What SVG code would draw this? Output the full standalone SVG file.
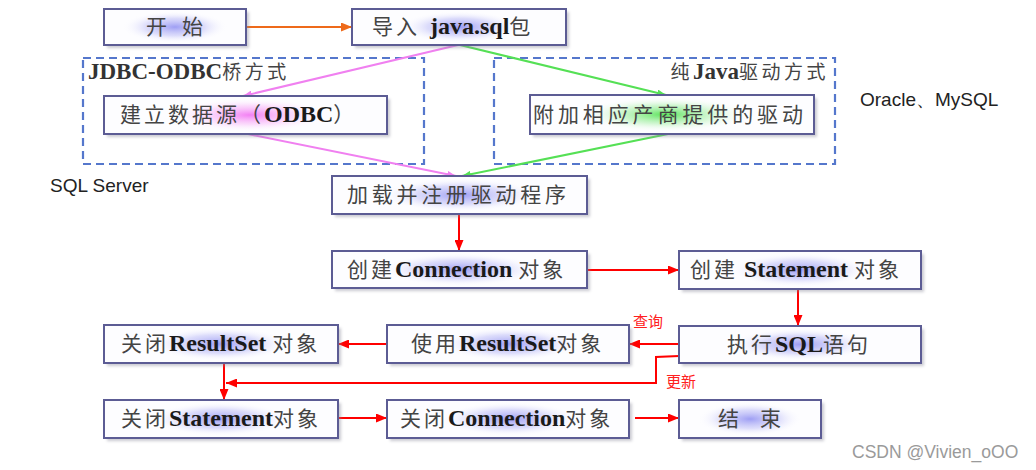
<svg xmlns="http://www.w3.org/2000/svg" width="1036" height="470" viewBox="0 0 1036 470">
<defs>
<style>
.box{fill:#fdfdff;stroke:#5c5c94;stroke-width:2}
.shadow{fill:#8a8a9a;opacity:.45;filter:url(#blur)}
.t{font-family:"Liberation Serif","Noto Sans CJK SC",serif;font-size:21px;fill:#3a3a3a}
.zh{font-family:"Noto Sans CJK SC","Liberation Serif",sans-serif;font-size:21px;fill:#444;letter-spacing:3px}
.la{font-family:"Liberation Serif",serif;font-weight:bold;font-size:24px;fill:#1a1a1a;letter-spacing:0}
.dash{fill:none;stroke:#5577cc;stroke-width:2.2;stroke-dasharray:8 5}
.side{font-family:"Liberation Sans",Arial,sans-serif;font-size:19px;fill:#222}
.red{stroke:#ff0000;stroke-width:2;fill:none}
.lbl{font-family:"Noto Sans CJK SC",sans-serif;font-size:15px;fill:#ff2020}
.gl{font-family:"Liberation Serif",serif;font-weight:bold;font-size:23px;fill:#333}
.gz{font-family:"Noto Sans CJK SC",sans-serif;font-size:19px;fill:#444;letter-spacing:3.5px}
</style>
<filter id="blur" x="-10%" y="-20%" width="120%" height="140%"><feGaussianBlur stdDeviation="1.5"/></filter>
<radialGradient id="gBlue" cx="0.5" cy="0.5" r="0.5">
<stop offset="0" stop-color="#7f7ff0" stop-opacity="0.75"/>
<stop offset="0.55" stop-color="#b4b4f6" stop-opacity="0.45"/>
<stop offset="1" stop-color="#ffffff" stop-opacity="0"/>
</radialGradient>
<radialGradient id="gPink" cx="0.5" cy="0.5" r="0.5">
<stop offset="0" stop-color="#f060f0" stop-opacity="0.8"/>
<stop offset="0.55" stop-color="#f8b0f8" stop-opacity="0.45"/>
<stop offset="1" stop-color="#ffffff" stop-opacity="0"/>
</radialGradient>
<radialGradient id="gGreen" cx="0.5" cy="0.5" r="0.5">
<stop offset="0" stop-color="#40e040" stop-opacity="0.85"/>
<stop offset="0.55" stop-color="#a8f0a8" stop-opacity="0.5"/>
<stop offset="1" stop-color="#ffffff" stop-opacity="0"/>
</radialGradient>
<marker id="aRed" markerUnits="userSpaceOnUse" markerWidth="11" markerHeight="9" refX="11" refY="4.5" orient="auto"><path d="M0,0 L11,4.5 L0,9 z" fill="#ff0000"/></marker>
<marker id="aOr" markerUnits="userSpaceOnUse" markerWidth="11" markerHeight="9" refX="11" refY="4.5" orient="auto"><path d="M0,0 L11,4.5 L0,9 z" fill="#ee6a1a"/></marker>
<marker id="aPink" markerUnits="userSpaceOnUse" markerWidth="9" markerHeight="7" refX="9" refY="3.5" orient="auto"><path d="M0,0 L9,3.5 L0,7 z" fill="#f080f0"/></marker>
<marker id="aGreen" markerUnits="userSpaceOnUse" markerWidth="9" markerHeight="7" refX="9" refY="3.5" orient="auto"><path d="M0,0 L9,3.5 L0,7 z" fill="#55e055"/></marker>
</defs>
<rect width="1036" height="470" fill="#ffffff"/>

<g id="groups">
<rect class="dash" x="83" y="58" width="341" height="106"/>
<text x="88" y="79"><tspan class="gl" font-size="25">J</tspan><tspan class="gl">DBC-ODBC</tspan><tspan class="gz">桥方式</tspan></text>
<rect class="dash" x="494" y="58" width="341" height="106"/>
<text x="829" y="79" text-anchor="end"><tspan class="gz">纯</tspan><tspan class="gl">Java</tspan><tspan class="gz">驱动方式</tspan></text>
</g>

<g id="connectors">
<line x1="246" y1="27" x2="352" y2="27" stroke="#ee6a1a" stroke-width="2" marker-end="url(#aOr)"/>
<line x1="458" y1="45" x2="243" y2="96" stroke="#f080f0" stroke-width="2" marker-end="url(#aPink)"/>
<line x1="248" y1="134" x2="456" y2="176" stroke="#f080f0" stroke-width="2" marker-end="url(#aPink)"/>
<line x1="460" y1="45" x2="666" y2="95" stroke="#55e055" stroke-width="2" marker-end="url(#aGreen)"/>
<line x1="668" y1="134" x2="462" y2="176" stroke="#55e055" stroke-width="2" marker-end="url(#aGreen)"/>
<line class="red" x1="459" y1="214" x2="459" y2="251" marker-end="url(#aRed)"/>
<line class="red" x1="587" y1="270" x2="679" y2="270" marker-end="url(#aRed)"/>
<line class="red" x1="798" y1="289" x2="798" y2="326" marker-end="url(#aRed)"/>
<line class="red" x1="679" y1="344" x2="629" y2="344" marker-end="url(#aRed)"/>
<line class="red" x1="387" y1="344" x2="338" y2="344" marker-end="url(#aRed)"/>
<polyline class="red" points="679,356 656,357 656,383 226,383" marker-end="url(#aRed)"/>
<line class="red" x1="224" y1="363" x2="224" y2="400" marker-end="url(#aRed)"/>
<line class="red" x1="338" y1="418" x2="387" y2="418" marker-end="url(#aRed)"/>
<line class="red" x1="635" y1="418" x2="679" y2="418" marker-end="url(#aRed)"/>
<text class="lbl" x="633" y="327">查询</text>
<text class="lbl" x="666" y="387">更新</text>
</g>

<g id="n-start">
<rect class="shadow" x="107" y="12" width="142" height="36"/>
<rect class="box" x="104" y="9" width="142" height="36"/>
<rect x="122" y="11" width="106" height="32" fill="url(#gBlue)"/>
<text class="zh" x="146" y="34" textLength="60" lengthAdjust="spacing" letter-spacing="0">开始</text>
</g>

<g id="n-import">
<rect class="shadow" x="355" y="12" width="214" height="36"/>
<rect class="box" x="352" y="9" width="214" height="36"/>
<rect x="400" y="11" width="120" height="32" fill="url(#gBlue)"/>
<text class="t" x="372" y="34"><tspan class="zh">导入</tspan><tspan class="la" dx="10">java.sql</tspan><tspan class="zh">包</tspan></text>
</g>

<g id="n-odbc">
<rect class="shadow" x="107" y="99" width="283" height="38"/>
<rect class="box" x="104" y="96" width="283" height="38"/>
<rect x="170" y="98" width="160" height="34" fill="url(#gPink)"/>
<text class="t" x="120" y="122"><tspan class="zh">建立数据源（</tspan><tspan class="la">ODBC</tspan><tspan class="zh">）</tspan></text>
</g>

<g id="n-vendor">
<rect class="shadow" x="533" y="98" width="284" height="39"/>
<rect class="box" x="530" y="95" width="284" height="39"/>
<rect x="580" y="97" width="170" height="35" fill="url(#gGreen)"/>
<text class="zh" x="533" y="122" textLength="273" lengthAdjust="spacing" letter-spacing="0">附加相应产商提供的驱动</text>
</g>

<g id="n-load">
<rect class="shadow" x="335" y="179" width="255" height="38"/>
<rect class="box" x="332" y="176" width="255" height="38"/>
<rect x="380" y="178" width="160" height="34" fill="url(#gBlue)"/>
<text class="zh" x="347" y="202" textLength="222" lengthAdjust="spacing" letter-spacing="0">加载并注册驱动程序</text>
</g>

<g id="n-conn">
<rect class="shadow" x="335" y="254" width="255" height="37"/>
<rect class="box" x="332" y="251" width="255" height="37"/>
<rect x="380" y="253" width="160" height="33" fill="url(#gBlue)"/>
<text class="t" x="347" y="277"><tspan class="zh">创建</tspan><tspan class="la">Connection </tspan><tspan class="zh">对象</tspan></text>
</g>

<g id="n-stmt">
<rect class="shadow" x="682" y="254" width="242" height="38"/>
<rect class="box" x="679" y="251" width="242" height="38"/>
<rect x="730" y="253" width="140" height="34" fill="url(#gBlue)"/>
<text class="t" x="690" y="277"><tspan class="zh">创建</tspan><tspan class="la" dx="6">Statement </tspan><tspan class="zh">对象</tspan></text>
</g>

<g id="n-exec">
<rect class="shadow" x="682" y="329" width="242" height="37"/>
<rect class="box" x="679" y="326" width="242" height="37"/>
<rect x="730" y="328" width="140" height="33" fill="url(#gBlue)"/>
<text class="t" x="727" y="352"><tspan class="zh">执行</tspan><tspan class="la">SQL</tspan><tspan class="zh">语句</tspan></text>
</g>

<g id="n-use-rs">
<rect class="shadow" x="390" y="328" width="242" height="38"/>
<rect class="box" x="387" y="325" width="242" height="38"/>
<rect x="440" y="327" width="140" height="34" fill="url(#gBlue)"/>
<text class="t" x="411" y="351"><tspan class="zh">使用</tspan><tspan class="la">ResultSet</tspan><tspan class="zh">对象</tspan></text>
</g>

<g id="n-close-rs">
<rect class="shadow" x="107" y="328" width="234" height="38"/>
<rect class="box" x="104" y="325" width="234" height="38"/>
<rect x="150" y="327" width="140" height="34" fill="url(#gBlue)"/>
<text class="t" x="121" y="351"><tspan class="zh">关闭</tspan><tspan class="la">ResultSet </tspan><tspan class="zh">对象</tspan></text>
</g>

<g id="n-close-stmt">
<rect class="shadow" x="107" y="403" width="234" height="38"/>
<rect class="box" x="104" y="400" width="234" height="38"/>
<rect x="150" y="402" width="140" height="34" fill="url(#gBlue)"/>
<text class="t" x="121" y="426"><tspan class="zh">关闭</tspan><tspan class="la">Statement</tspan><tspan class="zh">对象</tspan></text>
</g>

<g id="n-close-conn">
<rect class="shadow" x="390" y="403" width="242" height="38"/>
<rect class="box" x="387" y="400" width="242" height="38"/>
<rect x="440" y="402" width="140" height="34" fill="url(#gBlue)"/>
<text class="t" x="400" y="426"><tspan class="zh">关闭</tspan><tspan class="la">Connection</tspan><tspan class="zh">对象</tspan></text>
</g>

<g id="n-end">
<rect class="shadow" x="682" y="403" width="142" height="38"/>
<rect class="box" x="679" y="400" width="142" height="38"/>
<rect x="698" y="402" width="104" height="34" fill="url(#gBlue)"/>
<text class="zh" x="718" y="426" textLength="66" lengthAdjust="spacing" letter-spacing="0">结束</text>
</g>

<text class="side" x="860" y="106">Oracle、MySQL</text>
<text class="side" x="50" y="192">SQL Server</text>
<text x="852" y="458" font-family="Liberation Sans, Arial, sans-serif" font-size="17.5" fill="#9a9a9a">CSDN @Vivien_oOO</text>
</svg>
